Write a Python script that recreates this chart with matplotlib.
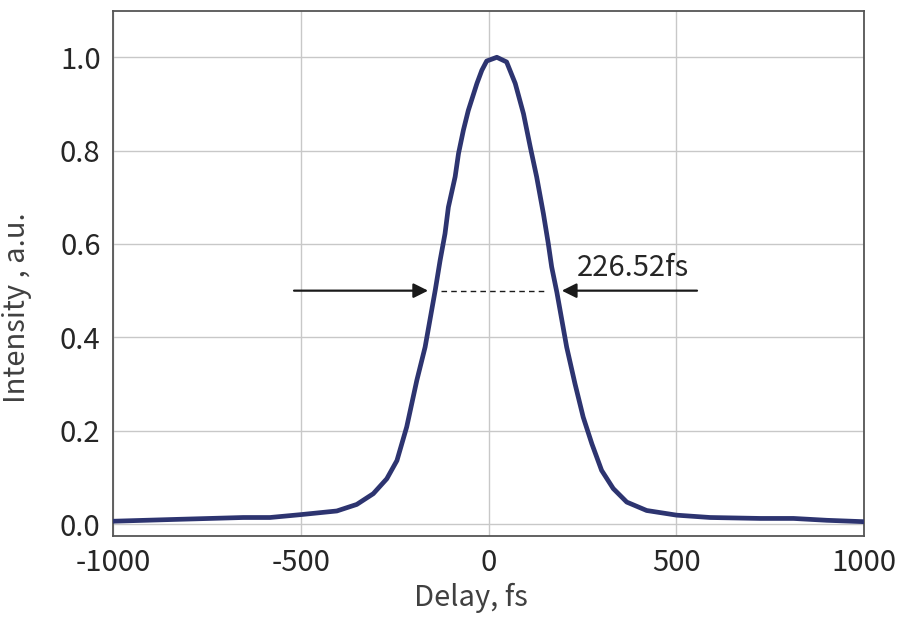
import numpy as np
import matplotlib
matplotlib.use("Agg")
import matplotlib.pyplot as plt

plt.rcParams['font.family'] = ['Noto Sans CJK SC', 'DejaVu Sans']

delay = [-1000, -830, -653, -582, -502, -404, -351, -307, -271, -244, -218, -191,
         -169, -142, -129, -116, -107, -89, -80, -67, -54, -31, -18, -5, 22, 48,
         71, 93, 111, 128, 146, 159, 168, 182, 208, 230, 252, 275, 301, 332, 368,
         421, 501, 590, 723, 812, 901, 1000]
intensity = [0.006, 0.010, 0.014, 0.014, 0.020, 0.028, 0.042, 0.065, 0.097, 0.136,
             0.208, 0.308, 0.379, 0.501, 0.565, 0.622, 0.679, 0.744, 0.794, 0.844,
             0.886, 0.944, 0.972, 0.992, 1.000, 0.990, 0.944, 0.879, 0.808, 0.744,
             0.665, 0.601, 0.551, 0.496, 0.379, 0.301, 0.229, 0.172, 0.115, 0.076,
             0.047, 0.029, 0.019, 0.014, 0.012, 0.012, 0.008, 0.005]
fwhm_label = "226.52fs"

xticks = [-1000, -500, 0, 500, 1000]
yticks = [0.0, 0.2, 0.4, 0.6, 0.8, 1.0]

fig = plt.figure(figsize=(9.02, 6.24), dpi=100)
ax = fig.add_axes([0.1253, 0.1415, 0.8327, 0.8415])

ax.plot(delay, intensity, color='#2d3470', lw=3.4, solid_joinstyle='round', zorder=3)

# half-maximum markers
ax.annotate("", xy=(-161, 0.5), xytext=(-518, 0.5),
            arrowprops=dict(arrowstyle='-|>', color='#1a1a1a', lw=1.6,
                            mutation_scale=22, shrinkA=0, shrinkB=0))
ax.annotate("", xy=(195, 0.5), xytext=(555, 0.5),
            arrowprops=dict(arrowstyle='-|>', color='#1a1a1a', lw=1.6,
                            mutation_scale=22, shrinkA=0, shrinkB=0))
ax.plot([-127, 150], [0.5, 0.5], color='#1a1a1a', lw=1.0, ls=(0, (4, 3)), zorder=2)
ax.text(236, 0.548, fwhm_label, fontsize=21, color='#262626', va='center', ha='left',
        fontweight='light')

ax.set_xlim(-1000, 1000)
ax.set_ylim(-0.025, 1.1)
ax.set_xticks(xticks)
ax.set_yticks(yticks)
ax.set_xticklabels([str(t) for t in xticks])
ax.set_yticklabels([f"{t:.1f}" for t in yticks])
ax.tick_params(length=0, labelsize=21, colors='#262626', pad=9)
for lab in ax.get_xticklabels() + ax.get_yticklabels():
    lab.set_fontweight('light')
ax.grid(True, color='#c8c8c8', lw=1.0)
ax.set_axisbelow(True)
for s in ax.spines.values():
    s.set_color('#555555')
    s.set_linewidth(1.3)

ax.set_xlabel("Delay, fs", fontsize=21, color='#404040', fontweight='light')
ax.set_ylabel("Intensity , a.u.", fontsize=21, color='#404040', fontweight='light')
ax.xaxis.set_label_coords(0.477, -0.09)
ax.yaxis.set_label_coords(-0.108, 0.435)

fig.savefig("out.png", dpi=100)
